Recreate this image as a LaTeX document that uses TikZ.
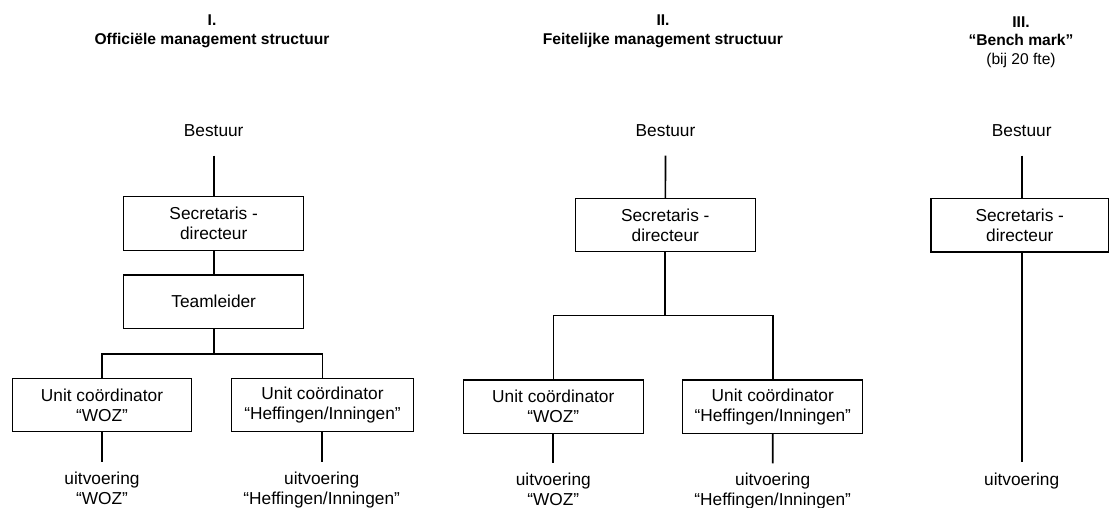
\documentclass[tikz,border=0pt]{standalone}
\usepackage{fontspec}
\setmainfont{Liberation Sans}
\usetikzlibrary{positioning}
\begin{document}
\begin{tikzpicture}[x=1pt,y=-1pt,
  every node/.style={inner sep=0pt, outer sep=0pt},
  txt/.style={font=\fontsize{17.3}{20}\selectfont, align=center},
  ttl/.style={font=\fontsize{15.6}{18.5}\selectfont, align=center},
  box/.style={txt, draw, line width=1.3pt, minimum width=180pt, minimum height=53.5pt},
  leaf/.style={txt, anchor=north},
  conn/.style={line width=1.7pt},
  bus/.style={line width=1.4pt}]
\useasboundingbox (0,0) rectangle (1109,508);

% ---------- I. Officiele management structuur ----------
\node[ttl] (t1) at (212,31.5) {\textbf{I.}\\\textbf{Officiële management structuur}};
\node[txt] (b1) at (213.7,130.5) {Bestuur};
\node[box] (s1) at (213.7,223.4) {Secretaris -\\directeur};
\node[box] (tl1) at (213.7,301.7) {Teamleider};
\coordinate (bus1) at (213.7,354);
\node[box, minimum width=179.5pt] (u1a) at (102,405) {Unit coördinator\\“WOZ”};
\node[box, minimum width=181.5pt] (u1b) at (322.5,405) {Unit coördinator\\“Heffingen/Inningen”};
\node[leaf] (x1a) at (102,472) {uitvoering\\“WOZ”};
\node[leaf] (x1b) at (321.7,472) {uitvoering\\“Heffingen/Inningen”};

\draw[conn, shorten <=19pt] (b1) -- (s1);
\draw[conn] (s1) -- (tl1);
\draw[conn] (tl1) -- (bus1);
\draw[bus] (u1a.north) |- (bus1) -| (u1b.north);
\draw[conn, shorten >=10.5pt] (u1a) -- (x1a);
\draw[conn, shorten >=10.5pt] (u1b.south -| x1b) -- (x1b);

% ---------- II. Feitelijke management structuur ----------
\node[ttl] (t2) at (663,31.5) {\textbf{II.}\\\textbf{Feitelijke management structuur}};
\node[txt] (b2) at (665.5,130.5) {Bestuur};
\node[box] (s2) at (665.3,225) {Secretaris -\\directeur};
\coordinate (bus2) at (665.3,315.7);
\node[box] (u2a) at (553.3,406.8) {Unit coördinator\\“WOZ”};
\node[box] (u2b) at (772.8,406.8) {Unit coördinator\\“Heffingen/Inningen”};
\node[leaf] (x2a) at (553.3,473) {uitvoering\\“WOZ”};
\node[leaf] (x2b) at (772.7,473) {uitvoering\\“Heffingen/Inningen”};

\draw[conn, shorten <=19pt] (b2) -- (s2);
\draw[conn] (s2) -- (bus2);
\draw[bus] (u2a.north) |- (bus2) -| (u2b.north);
\draw[conn, shorten >=9.7pt] (u2a) -- (x2a);
\draw[conn, shorten >=9.7pt] (u2b) -- (x2b);

% ---------- III. Bench mark ----------
\node[ttl] (t3) at (1021,42) {\textbf{III.}\\\textbf{“Bench mark”}\\(bij 20 fte)};
\node[txt] (b3) at (1021.7,130.5) {Bestuur};
\node[box, minimum width=177.5pt] (s3) at (1019.8,225.3) {Secretaris -\\directeur};
\node[txt] (x3) at (1021.7,481.5) {uitvoering};

\draw[conn, shorten <=19pt] (b3) -- (s3.north -| b3);
\draw[conn, shorten >=11pt] (s3.south -| b3) -- (x3);
\end{tikzpicture}
\end{document}
